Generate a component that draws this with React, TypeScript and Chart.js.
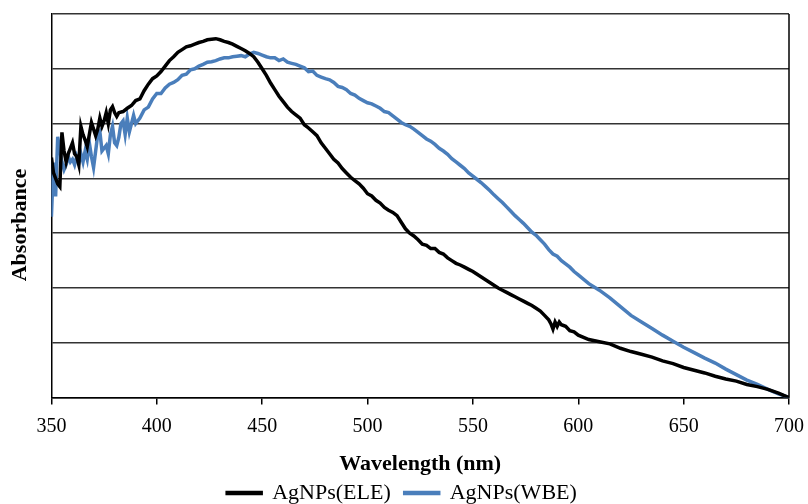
import React, { useEffect, useRef } from "react";
import { Chart, registerables } from "chart.js";

Chart.register(...registerables);

// Wavelength (nm) and absorbance (arbitrary units, 7 grid divisions)
const eleWavelength = [
  350, 351, 352, 353, 354, 355, 356, 357, 358, 359, 360, 361, 362, 363, 364, 365, 366, 367, 368, 369,
  370, 371, 372, 373, 374, 375, 376, 377, 378, 379, 380, 381, 382, 384, 386, 388, 390, 392, 394, 396,
  398, 400, 402, 404, 406, 408, 410, 412, 414, 416, 418, 420, 422, 424, 426, 428, 430, 432, 434, 436,
  438, 440, 442, 444, 446, 448, 450, 452, 454, 456, 458, 460, 462, 464, 466, 468, 470, 472, 474, 476,
  478, 480, 482, 484, 486, 488, 490, 492, 494, 496, 498, 500, 502, 504, 506, 508, 510, 512, 514, 516,
  518, 520, 522, 524, 526, 528, 530, 532, 534, 536, 538, 540, 542, 544, 546, 548, 550, 552, 554, 556,
  558, 560, 562, 564, 566, 568, 570, 572, 574, 576, 578, 580, 582, 584, 586, 587, 588, 589, 590, 591,
  592, 594, 596, 598, 600, 605, 610, 615, 620, 625, 630, 635, 640, 645, 650, 655, 660, 665, 670, 675,
  680, 685, 690, 695, 700,
];
const eleAbsorbance = [
  4.38, 4.1, 4.0, 3.9, 3.85, 4.84, 4.5, 4.3, 4.45, 4.55, 4.65, 4.45, 4.4, 4.25, 4.95, 4.8, 4.7, 4.58, 4.8, 5.02,
  4.9, 4.78, 4.9, 5.1, 4.95, 5.05, 5.2, 5.0, 5.25, 5.31, 5.2, 5.13, 5.2, 5.22, 5.28, 5.33, 5.42, 5.45, 5.6, 5.72,
  5.82, 5.87, 5.95, 6.05, 6.15, 6.22, 6.3, 6.35, 6.4, 6.42, 6.45, 6.48, 6.5, 6.53, 6.54, 6.55, 6.53, 6.5, 6.48, 6.45,
  6.41, 6.37, 6.33, 6.28, 6.22, 6.12, 6.0, 5.88, 5.74, 5.62, 5.5, 5.4, 5.3, 5.22, 5.16, 5.1, 4.98, 4.92, 4.85, 4.78,
  4.65, 4.55, 4.45, 4.35, 4.28, 4.18, 4.1, 4.02, 3.96, 3.9, 3.82, 3.72, 3.68, 3.6, 3.55, 3.47, 3.42, 3.38, 3.32, 3.2,
  3.08, 3.0, 2.95, 2.88, 2.8, 2.78, 2.72, 2.72, 2.65, 2.62, 2.55, 2.5, 2.45, 2.42, 2.38, 2.34, 2.3, 2.25, 2.2, 2.15,
  2.1, 2.05, 2.0, 1.96, 1.92, 1.88, 1.84, 1.8, 1.76, 1.72, 1.68, 1.63, 1.58, 1.5, 1.42, 1.35, 1.25, 1.38, 1.3, 1.38,
  1.33, 1.3, 1.22, 1.2, 1.14, 1.06, 1.02, 0.98, 0.9, 0.84, 0.79, 0.74, 0.67, 0.62, 0.55, 0.5, 0.45, 0.39, 0.34, 0.3,
  0.24, 0.2, 0.15, 0.08, 0.0,
];

const wbeWavelength = [
  350, 351, 352, 353, 354, 355, 356, 357, 358, 359, 360, 361, 362, 363, 364, 365, 366, 367, 368, 369,
  370, 371, 372, 373, 374, 375, 376, 377, 378, 379, 380, 381, 382, 383, 384, 385, 386, 387, 388, 389,
  390, 392, 394, 396, 398, 400, 402, 404, 406, 408, 410, 412, 414, 416, 418, 420, 422, 424, 426, 428,
  430, 432, 434, 436, 438, 440, 442, 444, 446, 448, 450, 452, 454, 456, 458, 460, 462, 464, 466, 468,
  470, 472, 474, 476, 478, 480, 482, 484, 486, 488, 490, 492, 494, 496, 498, 500, 502, 504, 506, 508,
  510, 512, 514, 516, 518, 520, 522, 524, 526, 528, 530, 532, 534, 536, 538, 540, 542, 544, 546, 548,
  550, 552, 554, 556, 558, 560, 562, 564, 566, 568, 570, 572, 574, 576, 578, 580, 582, 584, 586, 588,
  590, 592, 594, 596, 598, 600, 605, 610, 615, 620, 625, 630, 635, 640, 645, 650, 655, 660, 665, 670,
  675, 680, 685, 690, 695, 700,
];
const wbeAbsorbance = [
  3.3, 4.29, 3.67, 4.76, 4.5, 4.3, 4.16, 4.25, 4.4, 4.3, 4.35, 4.25, 4.4, 4.28, 4.45, 4.3, 4.5, 4.35, 4.65, 4.4,
  4.2, 4.5, 4.8, 4.85, 4.5, 4.55, 4.6, 4.45, 4.8, 4.95, 4.65, 4.6, 4.75, 5.0, 5.05, 4.8, 5.1, 4.85, 5.0, 5.15,
  5.0, 5.1, 5.25, 5.3, 5.45, 5.55, 5.55, 5.65, 5.72, 5.75, 5.8, 5.88, 5.9, 5.98, 6.0, 6.05, 6.08, 6.12, 6.13, 6.15,
  6.18, 6.2, 6.2, 6.22, 6.23, 6.24, 6.22, 6.27, 6.3, 6.28, 6.25, 6.22, 6.2, 6.2, 6.15, 6.18, 6.12, 6.1, 6.08, 6.05,
  6.02, 5.95, 5.96, 5.88, 5.85, 5.82, 5.8, 5.75, 5.68, 5.66, 5.62, 5.55, 5.52, 5.46, 5.42, 5.38, 5.36, 5.32, 5.28, 5.22,
  5.2, 5.14, 5.08, 5.02, 4.98, 4.95, 4.9, 4.84, 4.78, 4.72, 4.68, 4.62, 4.55, 4.5, 4.44, 4.36, 4.3, 4.24, 4.18, 4.1,
  4.04, 3.98, 3.92, 3.85, 3.78, 3.7, 3.63, 3.56, 3.48, 3.4, 3.32, 3.25, 3.18, 3.1, 3.02, 2.96, 2.88, 2.8, 2.7, 2.62,
  2.58, 2.5, 2.44, 2.38, 2.3, 2.24, 2.08, 1.96, 1.82, 1.66, 1.5, 1.38, 1.26, 1.14, 1.03, 0.92, 0.82, 0.72, 0.63, 0.52,
  0.42, 0.32, 0.24, 0.15, 0.07, 0.0,
];

const seriesNames = ["AgNPs(ELE)", "AgNPs(WBE)"];
const xTitle = "Wavelength (nm)";
const yTitle = "Absorbance       ";

const FONT = "'Liberation Serif', 'Times New Roman', serif";

const frameRight = {
  id: "frameRight",
  afterDatasetsDraw(chart: any) {
    const { ctx, chartArea } = chart;
    ctx.save();
    ctx.strokeStyle = "#000";
    ctx.lineWidth = 1.5;
    ctx.beginPath();
    ctx.moveTo(chartArea.right, chartArea.top);
    ctx.lineTo(chartArea.right, chartArea.bottom);
    ctx.stroke();
    ctx.restore();
  },
};

export default function App() {
  const ref = useRef<HTMLCanvasElement | null>(null);
  useEffect(() => {
    if (!ref.current) return;
    const toPts = (xs: number[], ys: number[]) => xs.map((x, i) => ({ x, y: ys[i] }));
    const chart = new Chart(ref.current, {
      type: "line",
      data: {
        datasets: [
          {
            label: seriesNames[0],
            data: toPts(eleWavelength, eleAbsorbance),
            borderColor: "#000000",
            backgroundColor: "#000000",
            borderWidth: 3.5,
            pointRadius: 0,
            tension: 0,
          },
          {
            label: seriesNames[1],
            data: toPts(wbeWavelength, wbeAbsorbance),
            borderColor: "#4a7ebb",
            backgroundColor: "#4a7ebb",
            borderWidth: 3.5,
            pointRadius: 0,
            tension: 0,
          },
        ],
      },
      options: {
        animation: false,
        responsive: true,
        maintainAspectRatio: false,
        layout: { padding: { top: 14, right: 4, left: 0, bottom: -10 } },
        plugins: {
          tooltip: { enabled: false },
          legend: {
            position: "bottom",
            labels: {
              font: { family: FONT, size: 22 },
              color: "#000",
              boxWidth: 34,
              boxHeight: 1,
              padding: 14,
            },
          },
        },
        scales: {
          x: {
            type: "linear",
            min: 350,
            max: 700,
            afterFit: (scale: any) => {
              scale.paddingRight = 19;
            },
            ticks: {
              stepSize: 50,
              font: { family: FONT, size: 20 },
              color: "#000",
              padding: 10,
              maxRotation: 0,
            },
            grid: {
              drawOnChartArea: false,
              drawTicks: true,
              tickLength: 7,
              color: "#000",
              lineWidth: 1.5,
            },
            border: { display: true, color: "#000", width: 1.5 },
            title: {
              display: true,
              text: xTitle,
              font: { family: FONT, size: 22, weight: "bold" },
              color: "#000",
              padding: { top: 3, bottom: -10 },
            },
          },
          y: {
            min: 0,
            max: 7,
            ticks: { display: false, stepSize: 1 },
            grid: { drawTicks: false, color: "#333", lineWidth: 1.5 },
            border: { display: true, color: "#000", width: 1.5 },
            title: {
              display: true,
              text: yTitle,
              font: { family: FONT, size: 22, weight: "bold" },
              color: "#000",
              padding: { top: 7, bottom: 18 },
            },
          },
        },
      },
      plugins: [frameRight],
    });
    return () => chart.destroy();
  }, []);
  return (
    <div style={{ position: "fixed", left: 0, top: 0, width: 808, height: 504, background: "#fff" }}>
      <canvas ref={ref} />
    </div>
  );
}
